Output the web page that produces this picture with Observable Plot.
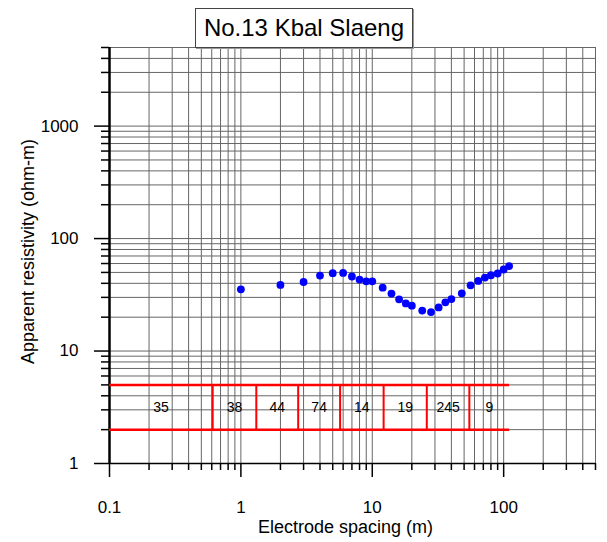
<!DOCTYPE html>
<html>
<head>
<meta charset="utf-8">
<script src="https://cdn.jsdelivr.net/npm/d3@7"></script>
<script src="https://cdn.jsdelivr.net/npm/@observablehq/plot@0.6"></script>
<style>
  html, body { margin: 0; padding: 0; background: #fff; }
  #wrap { position: relative; width: 607px; height: 542px; font-family: Arial, "Liberation Sans", sans-serif; }
  #title {
    position: absolute; left: 195px; top: 8px; width: 216px; height: 38px;
    border: 1px solid #444; box-shadow: 1px 1px 0 #999; background: #fff;
    font-size: 24px; line-height: 38px; text-align: center; color: #000; z-index: 2;
    box-sizing: content-box;
  }
  #chart { position: absolute; left: 0; top: 0; }
</style>
</head>
<body>
<div id="wrap">
  <div id="chart"></div>
  <div id="title"></div>
</div>
<script>
// ---- data ----
const titleText = "No.13 Kbal Slaeng";
const xLabel = "Electrode spacing (m)";
const yLabel = "Apparent resistivity (ohm-m)";

const spacing = [1, 2, 3, 4, 5, 6, 7, 8, 9, 10, 12, 14, 16, 18, 20, 24, 28, 32, 36, 40, 48, 56, 64, 72, 80, 90, 100, 110];
const resistivity = [35.4, 38.7, 41.1, 46.9, 49.2, 49.5, 46.0, 43.2, 41.7, 41.7, 36.6, 32.4, 28.8, 26.5, 25.3, 22.9, 22.2, 24.4, 27.1, 29.0, 32.6, 38.4, 42.0, 45.0, 47.2, 48.9, 53.1, 56.9];

// layered model: boundaries along spacing axis and layer resistivities
const layerBounds = [0.1, 0.61, 1.31, 2.73, 5.69, 12.2, 26, 54.8, 111];
const layerRes = ["35", "38", "44", "74", "14", "19", "245", "9"];
const bandTop = 5, bandBottom = 2;

const xMajor = [0.1, 1, 10, 100];
const xMajorLabels = ["0.1", "1", "10", "100"];
const yMajor = [1, 10, 100, 1000];
const yMajorLabels = ["1", "10", "100", "1000"];
const xDomain = [0.1, 500];
const yDomain = [1, 5000];

// ---- derived ----
const points = spacing.map((s, i) => ({s, r: resistivity[i]}));
const mult = [1, 2, 3, 4, 5, 6, 7, 8, 9];
const xGrid = xMajor.flatMap(d => mult.map(k => +(k * d).toPrecision(6))).filter(v => v <= xDomain[1]);
const yGrid = yMajor.flatMap(d => mult.map(k => +(k * d).toPrecision(6))).filter(v => v <= yDomain[1]);
const xMinor = xGrid.filter(v => !xMajor.includes(v));
const yMinor = yGrid.filter(v => !yMajor.includes(v));
const verticals = layerBounds.slice(1, -1);
const layers = layerRes.map((t, i) => ({
  t,
  x: Math.sqrt(layerBounds[i] * layerBounds[i + 1]),
  y: Math.sqrt(bandTop * bandBottom)
}));
const xFmt = v => xMajorLabels[xMajor.indexOf(v)];
const yFmt = v => yMajorLabels[yMajor.indexOf(v)];

document.getElementById("title").textContent = titleText;

const chart = Plot.plot({
  width: 607,
  height: 542,
  marginLeft: 109,
  marginRight: 12,
  marginTop: 47,
  marginBottom: 79,
  style: {fontFamily: "Arial, 'Liberation Sans', sans-serif", fontSize: "17px", background: "#fff", color: "#000", overflow: "visible"},
  x: {type: "log", domain: xDomain},
  y: {type: "log", domain: yDomain},
  marks: [
    Plot.ruleX(xGrid, {stroke: "#666", strokeWidth: 1}),
    Plot.ruleY(yGrid, {stroke: "#666", strokeWidth: 1}),
    // minor ticks
    Plot.axisX(xMinor, {anchor: "bottom", tickSize: 7, tickFormat: () => "", stroke: "#000", strokeWidth: 1.5, label: null}),
    Plot.axisY(yMinor, {anchor: "left", tickSize: 8, tickFormat: () => "", stroke: "#000", strokeWidth: 1.5, label: null}),
    // major ticks with labels
    Plot.axisX(xMajor, {anchor: "bottom", tickSize: 14, tickPadding: 23, tickFormat: xFmt, stroke: "#000", strokeWidth: 1.5, fontSize: 17, label: null}),
    Plot.axisY(yMajor, {anchor: "left", tickSize: 15, tickPadding: 16, tickFormat: yFmt, stroke: "#000", strokeWidth: 1.5, fontSize: 17, label: null}),
    // axis lines
    Plot.ruleY([yDomain[0]], {stroke: "#000", strokeWidth: 1.5}),
    Plot.ruleX([xDomain[0]], {stroke: "#000", strokeWidth: 2.5}),
    // layered model band
    Plot.ruleY([bandTop, bandBottom], {x1: layerBounds[0], x2: layerBounds[layerBounds.length - 1], stroke: "#ff0000", strokeWidth: 2.5}),
    Plot.ruleX(verticals, {y1: bandBottom, y2: bandTop, stroke: "#ff0000", strokeWidth: 2}),
    Plot.text(layers, {x: "x", y: "y", text: "t", fontSize: 14, fill: "#000"}),
    // data
    Plot.dot(points, {x: "s", y: "r", r: 3.9, fill: "#0000ff", stroke: null}),
    // axis titles
    Plot.text([xLabel], {frameAnchor: "bottom", lineAnchor: "middle", textAnchor: "middle", dx: -7, dy: 64, fontSize: 18, fill: "#000"}),
    Plot.text([yLabel], {frameAnchor: "left", lineAnchor: "middle", textAnchor: "middle", rotate: -90, dx: -81, dy: -4, fontSize: 18, fill: "#000"})
  ]
});
document.getElementById("chart").appendChild(chart);
</script>
</body>
</html>
